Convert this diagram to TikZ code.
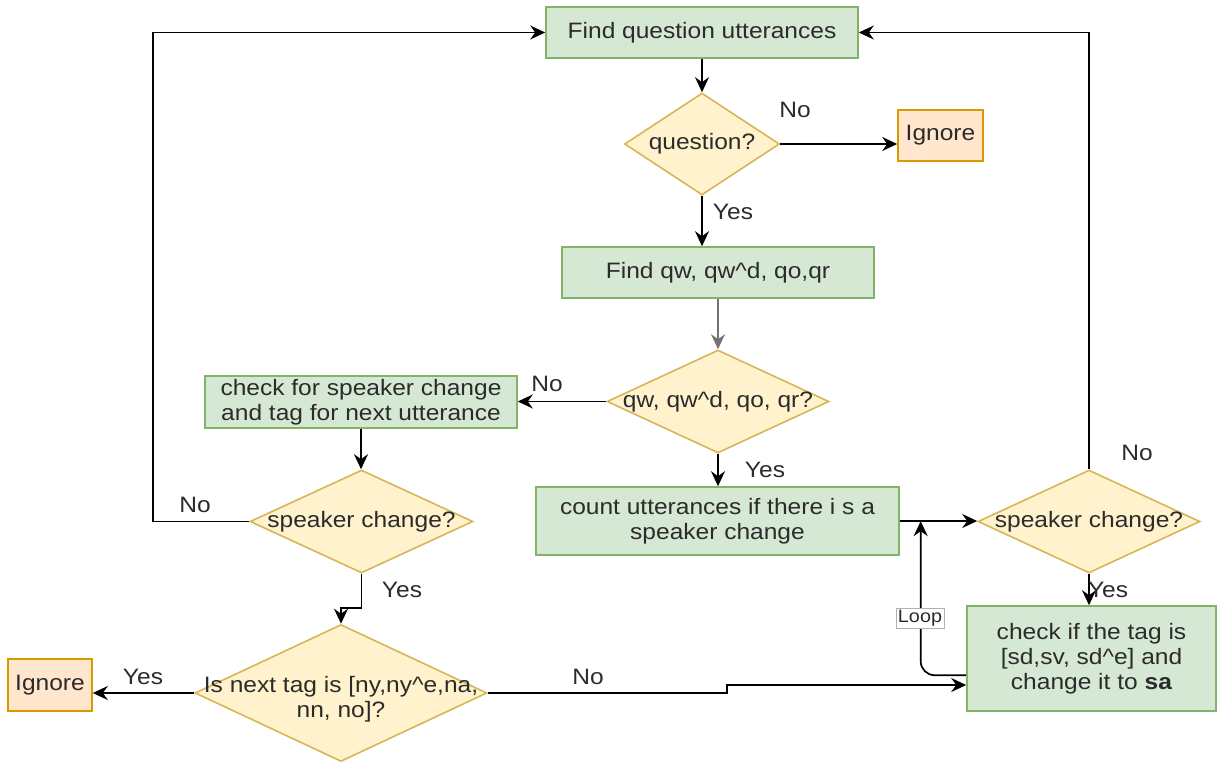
\documentclass[tikz,border=0pt]{standalone}
\usepackage{fontspec}
\setmainfont[FakeStretch=1.1]{Liberation Sans}
\usetikzlibrary{shapes.geometric,arrows.meta,calc}
\definecolor{gfill}{HTML}{D5E8D4}
\definecolor{gline}{HTML}{82B366}
\definecolor{yfill}{HTML}{FFF2CC}
\definecolor{yline}{HTML}{D6B656}
\definecolor{ofill}{HTML}{FFE6CC}
\definecolor{oline}{HTML}{D79B00}
\definecolor{txtc}{HTML}{2B2B2B}
\begin{document}
\begin{tikzpicture}[x=1pt,y=-1pt,
  every node/.style={text=txtc, font=\fontsize{22.3}{25}\selectfont, inner sep=0pt},
  proc/.style={rectangle, draw=gline, fill=gfill, line width=1.6pt, align=center},
  stop/.style={rectangle, draw=oline, fill=ofill, line width=1.6pt, align=center},
  dec/.style={diamond, draw=yline, fill=yfill, line width=1.6pt},
  txt/.style={align=center},
  lbl/.style={},
  arr/.style={draw=black, line width=1.7pt, -{Stealth[length=15pt,width=14pt,inset=5pt]}},
  looplbl/.style={draw=black!30, fill=white, line width=0.8pt, inner xsep=2pt, inner ysep=2pt,
                  font=\fontsize{18}{20}\selectfont}
]
\useasboundingbox (0,0) rectangle (1219,763);

% process boxes
\node[proc, minimum width=312, minimum height=51] (find) at (702,32.5) {Find question utterances};
\node[proc, minimum width=312, minimum height=51] (findqw) at (718,272.5) {Find qw, qw\textasciicircum d, qo,qr};
\node[proc, minimum width=312, minimum height=52] (chk) at (361,402) {check for speaker change\\and tag for next utterance};
\node[proc, minimum width=363, minimum height=68] (count) at (717.5,521) {count utterances if there i s a\\speaker change};
\node[proc, minimum width=249, minimum height=105] (ctag) at (1091.5,658.5) {check if the tag is\\{}[sd,sv, sd\textasciicircum e] and\\change it to \textbf{sa}};

% end boxes
\node[stop, minimum width=85, minimum height=51] (ign1) at (940.5,135.5) {Ignore};
\node[stop, minimum width=84, minimum height=52] (ign2) at (50,685) {Ignore};

% decisions
\node[dec, minimum width=155, minimum height=102] (q1) at (702,144) {};
\node[txt] (q1t) at (q1) {question?};
\node[dec, minimum width=222, minimum height=103] (q2) at (718,401.5) {};
\node[txt] (q2t) at (q2) {qw, qw\textasciicircum d, qo, qr?};
\node[dec, minimum width=223, minimum height=103] (sc1) at (361.5,521.5) {};
\node[txt] (sc1t) at (sc1) {speaker change?};
\node[dec, minimum width=222, minimum height=103] (sc2) at (1089,521.5) {};
\node[txt] (sc2t) at (sc2) {speaker change?};
\node[dec, minimum width=292, minimum height=137] (tag) at (341,693) {};
\node[txt] (tagt) at (341,699) {Is next tag is [ny,ny\textasciicircum e,na,\\nn, no]?};

% helper points
\coordinate (lc) at (153,521.5);
\coordinate (stepup) at (727,685);
\coordinate (loopstart) at ($(ctag.south west)!0.343!(ctag.north west)$);
\coordinate (loopend) at ($(count.east)!0.27!(sc2.west)$);

% connectors
\draw[arr] (find.south) -- (q1.north);
\draw[arr] (q1.east) -- (ign1.west |- q1.east);
\draw[arr] (q1.south) -- (q1.south |- findqw.north);
\draw[arr, draw=black!55] (findqw.south) -- (q2.north);
\draw[arr] (q2.west) -- (chk.east |- q2.west);
\draw[arr] (q2.south) -- (q2.south |- count.north);
\draw[arr] (chk.south) -- (chk.south |- sc1.north);
\draw[arr] (sc1.west) -- (lc) |- (find.west);
\draw[arr] (sc1.south) -- ++(0,34) -| (tag.north);
\draw[arr] (tag.west) -- (ign2.east |- tag.west);
\draw[arr] (tag.east) -| (stepup) -- (ctag.west |- stepup);
\draw[arr] (count.east) -- (sc2.west |- count.east);
\draw[arr] (sc2.north) |- (find.east);
\draw[arr] (sc2.south) -- (sc2.south |- ctag.north);
\draw[arr, rounded corners=14pt] (loopstart) -| (loopend);
\node[looplbl] (loop) at (920,618) {Loop};

% branch labels
\node[lbl] (l1) at (795,110) {No};
\node[lbl] (l2) at (733,212) {Yes};
\node[lbl] (l3) at (547,384) {No};
\node[lbl] (l4) at (765,470) {Yes};
\node[lbl] (l5) at (195,505) {No};
\node[lbl] (l6) at (402,590) {Yes};
\node[lbl] (l7) at (143,677) {Yes};
\node[lbl] (l8) at (588,677) {No};
\node[lbl] (l9) at (1137,453) {No};
\node[lbl] (l10) at (1108,590) {Yes};
\end{tikzpicture}
\end{document}
